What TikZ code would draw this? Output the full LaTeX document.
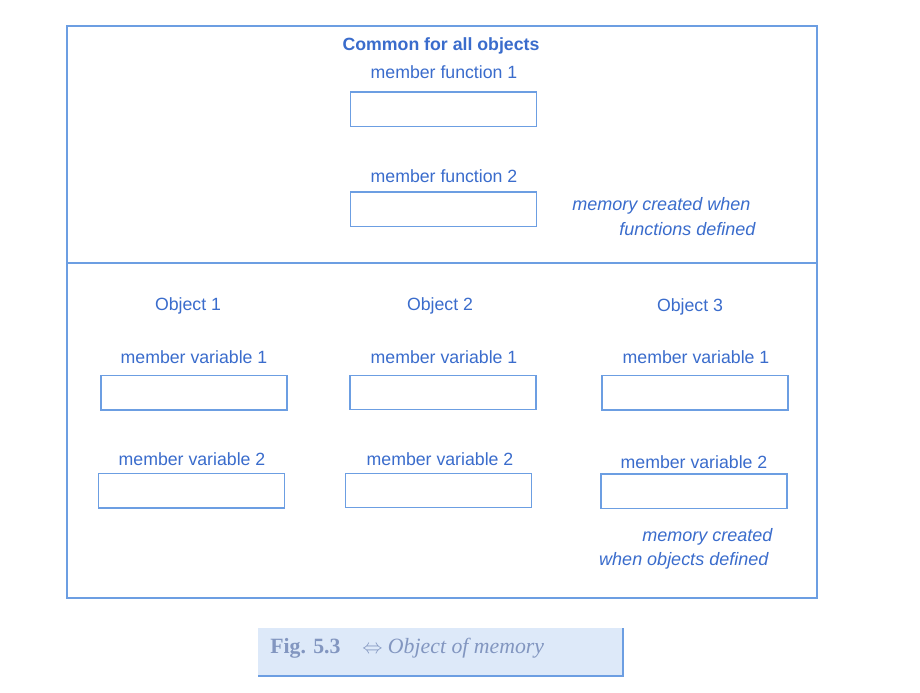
\documentclass[tikz,border=0pt]{standalone}
\usepackage{fontspec}
\setmainfont{Liberation Sans}
\newfontfamily\capfont{Liberation Serif}
\usepackage{tikz}
\usetikzlibrary{positioning}

\definecolor{linecol}{RGB}{108,158,226}
\definecolor{txtcol}{RGB}{58,108,204}
\definecolor{capfill}{RGB}{221,233,249}
\definecolor{captxt}{RGB}{130,150,192}

\tikzset{
  membox/.style={rectangle,draw=linecol,line width=1pt,minimum width=4.65cm,minimum height=0.86cm,inner sep=0pt},
  lbl/.style={font=\fontsize{12.6}{14}\selectfont,text=txtcol,inner sep=1pt},
  note/.style={font=\fontsize{12.8}{14}\selectfont\itshape,text=txtcol,inner sep=1pt,anchor=east}
}

\begin{document}
\begin{tikzpicture}
\useasboundingbox[fill=white] (0,0) rectangle (23,17.325);
\draw[linecol,line width=1pt] (1.675,2.375) rectangle (20.425,16.675);
\draw[linecol,line width=1pt] (1.675,10.75) -- (20.425,10.75);

% common part
\node[lbl,font=\fontsize{12.6}{14}\selectfont\bfseries] (common) at (11.025,16.175) {Common for all objects};
\node[lbl] (fn1) at (11.1,15.525) {member function 1};
\node[membox] (fbox1) at (11.09,14.59) {};
\node[lbl] (fn2) at (11.1,12.925) {member function 2};
\node[membox] (fbox2) at (11.09,12.09) {};
\node[note] (fmem1) at (18.8,12.175) {memory created when};
\node[note] (fmem2) at (18.925,11.6) {functions defined};

% objects
\node[lbl] (obj1) at (4.7,9.675) {Object 1};
\node[lbl] (obj2) at (11.0,9.675) {Object 2};
\node[lbl] (obj3) at (17.25,9.65) {Object 3};

\node[lbl] (var11) at (4.85,8.4) {member variable 1};
\node[lbl] (var21) at (11.1,8.4) {member variable 1};
\node[lbl] (var31) at (17.4,8.4) {member variable 1};
\node[membox] (vbox11) at (4.85,7.5) {};
\node[membox] (vbox21) at (11.075,7.51) {};
\node[membox] (vbox31) at (17.375,7.5) {};

\node[lbl] (var12) at (4.8,5.85) {member variable 2};
\node[lbl] (var22) at (11.0,5.85) {member variable 2};
\node[lbl] (var32) at (17.35,5.775) {member variable 2};
\node[membox] (vbox12) at (4.79,5.05) {};
\node[membox] (vbox22) at (10.96,5.06) {};
\node[membox] (vbox32) at (17.35,5.04) {};

\node[note] (omem1) at (19.35,3.9) {memory created};
\node[note] (omem2) at (19.25,3.3) {when objects defined};

% caption
\fill[capfill] (6.45,0.425) rectangle (15.575,1.625);
\draw[linecol,line width=1pt] (6.45,0.425) -- (15.575,0.425) -- (15.575,1.625);
\node[font=\capfont\fontsize{15.5}{17}\selectfont,text=captxt,anchor=west,inner sep=0pt] (cap) at (6.75,1.125)
  {\textbf{Fig. 5.3}\quad $\Leftrightarrow$ \textit{Object of memory}};
\end{tikzpicture}
\end{document}
